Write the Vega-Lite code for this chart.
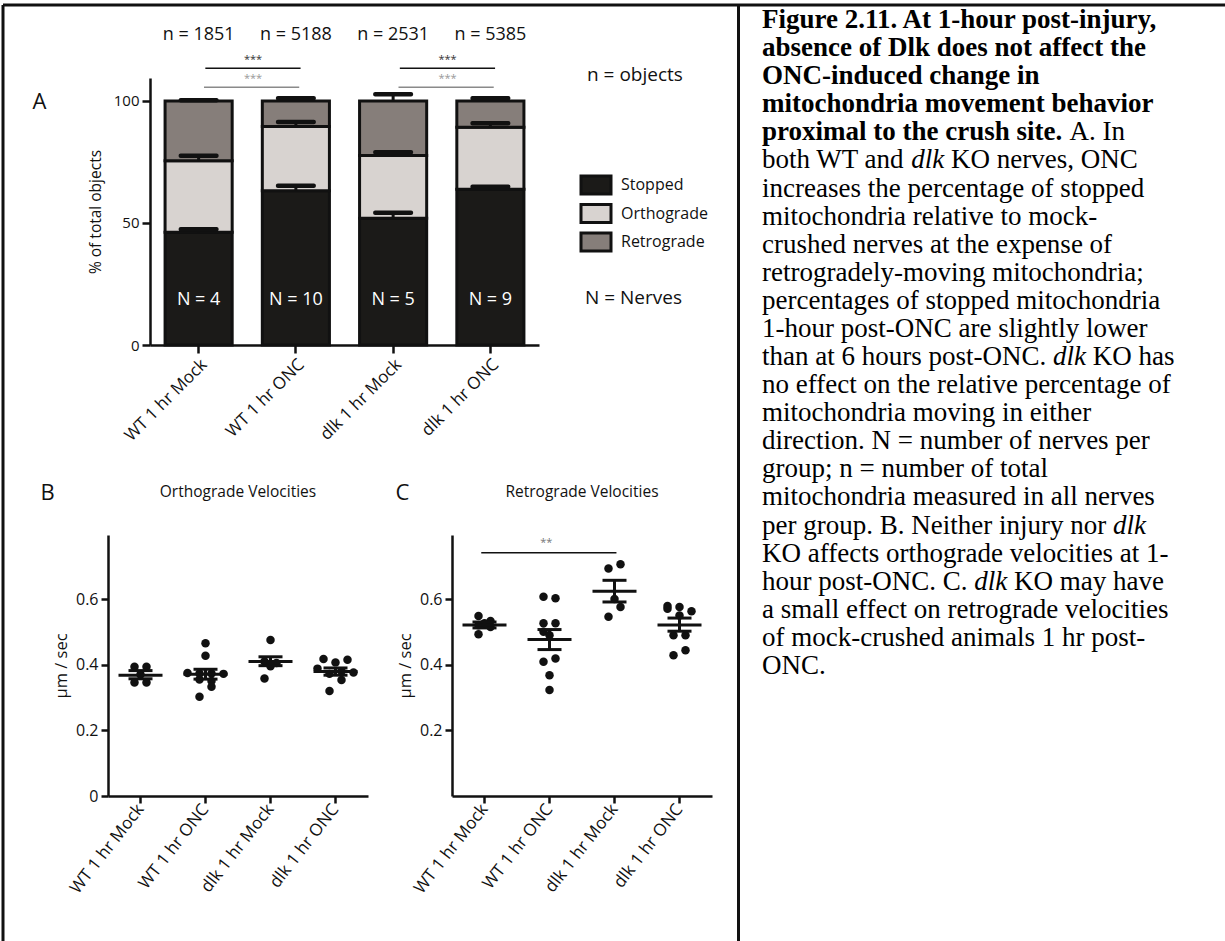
{
  "$schema": "https://vega.github.io/schema/vega-lite/v6.json",
  "width": 1222,
  "height": 936,
  "autosize": {"type": "none"},
  "padding": {"left": 3, "top": 5, "right": 0, "bottom": 0},
  "background": "white",
  "config": {
    "font": "Open Sans",
    "view": {"stroke": "#111", "strokeWidth": 3, "strokeDash": [1222, 2158, 936, 0]},
    "axis": {"grid": false, "domainColor": "#111", "tickColor": "#111", "labelColor": "#111", "titleColor": "#111", "titleFontWeight": "normal"},
    "legend": {"titleFontWeight": "normal", "titleColor": "#111", "labelColor": "#111", "padding": 0},
    "tick": {"opacity": 1}
  },
  "datasets": {
    "segA": [
      {"group": "WT 1 hr Mock", "motion": "Stopped", "start": 0, "end": 46.2, "err": 47.4},
      {"group": "WT 1 hr Mock", "motion": "Orthograde", "start": 46.2, "end": 75.5, "err": 77.5},
      {"group": "WT 1 hr Mock", "motion": "Retrograde", "start": 75.5, "end": 100, "err": 100.3},
      {"group": "WT 1 hr ONC", "motion": "Stopped", "start": 0, "end": 63.2, "err": 65.2},
      {"group": "WT 1 hr ONC", "motion": "Orthograde", "start": 63.2, "end": 89.5, "err": 91.4},
      {"group": "WT 1 hr ONC", "motion": "Retrograde", "start": 89.5, "end": 100, "err": 101.1},
      {"group": "dlk 1 hr Mock", "motion": "Stopped", "start": 0, "end": 51.9, "err": 54.2},
      {"group": "dlk 1 hr Mock", "motion": "Orthograde", "start": 51.9, "end": 77.6, "err": 79.0},
      {"group": "dlk 1 hr Mock", "motion": "Retrograde", "start": 77.6, "end": 100, "err": 102.7},
      {"group": "dlk 1 hr ONC", "motion": "Stopped", "start": 0, "end": 63.8, "err": 64.8},
      {"group": "dlk 1 hr ONC", "motion": "Orthograde", "start": 63.8, "end": 89.2, "err": 90.9},
      {"group": "dlk 1 hr ONC", "motion": "Retrograde", "start": 89.2, "end": 100, "err": 101.1}
    ],
    "groupsA": [
      {"group": "WT 1 hr Mock", "nObj": "n = 1851", "nNerve": "N = 4", "unit": "Nerves"},
      {"group": "WT 1 hr ONC", "nObj": "n = 5188", "nNerve": "N = 10", "unit": "Nerves"},
      {"group": "dlk 1 hr Mock", "nObj": "n = 2531", "nNerve": "N = 5", "unit": "Nerves"},
      {"group": "dlk 1 hr ONC", "nObj": "n = 5385", "nNerve": "N = 9", "unit": "Nerves"}
    ],
    "sigA": [
      {"left": "WT 1 hr Mock", "right": "WT 1 hr ONC", "stars": "***"},
      {"left": "dlk 1 hr Mock", "right": "dlk 1 hr ONC", "stars": "***"}
    ],
    "sigC": [{"left": "WT 1 hr Mock", "right": "dlk 1 hr Mock", "stars": "**"}],
    "panels": [
      {"panel": "Orthograde", "title": "Orthograde Velocities"},
      {"panel": "Retrograde", "title": "Retrograde Velocities"}
    ],
    "vel": [
      {"panel": "Orthograde", "group": "WT 1 hr Mock", "slot": -1, "speed": 0.394},
      {"panel": "Orthograde", "group": "WT 1 hr Mock", "slot": 1, "speed": 0.394},
      {"panel": "Orthograde", "group": "WT 1 hr Mock", "slot": 0, "speed": 0.37},
      {"panel": "Orthograde", "group": "WT 1 hr Mock", "slot": -1, "speed": 0.346},
      {"panel": "Orthograde", "group": "WT 1 hr Mock", "slot": 1, "speed": 0.346},
      {"panel": "Orthograde", "group": "WT 1 hr ONC", "slot": 0, "speed": 0.465},
      {"panel": "Orthograde", "group": "WT 1 hr ONC", "slot": 0, "speed": 0.427},
      {"panel": "Orthograde", "group": "WT 1 hr ONC", "slot": -3, "speed": 0.375},
      {"panel": "Orthograde", "group": "WT 1 hr ONC", "slot": -1, "speed": 0.373},
      {"panel": "Orthograde", "group": "WT 1 hr ONC", "slot": 1, "speed": 0.373},
      {"panel": "Orthograde", "group": "WT 1 hr ONC", "slot": 3, "speed": 0.372},
      {"panel": "Orthograde", "group": "WT 1 hr ONC", "slot": -1, "speed": 0.355},
      {"panel": "Orthograde", "group": "WT 1 hr ONC", "slot": 1, "speed": 0.35},
      {"panel": "Orthograde", "group": "WT 1 hr ONC", "slot": 1, "speed": 0.333},
      {"panel": "Orthograde", "group": "WT 1 hr ONC", "slot": -1, "speed": 0.302},
      {"panel": "Orthograde", "group": "dlk 1 hr Mock", "slot": 0, "speed": 0.475},
      {"panel": "Orthograde", "group": "dlk 1 hr Mock", "slot": -1, "speed": 0.41},
      {"panel": "Orthograde", "group": "dlk 1 hr Mock", "slot": 1, "speed": 0.405},
      {"panel": "Orthograde", "group": "dlk 1 hr Mock", "slot": 0, "speed": 0.395},
      {"panel": "Orthograde", "group": "dlk 1 hr Mock", "slot": -1, "speed": 0.358},
      {"panel": "Orthograde", "group": "dlk 1 hr ONC", "slot": -2, "speed": 0.417},
      {"panel": "Orthograde", "group": "dlk 1 hr ONC", "slot": 0, "speed": 0.407},
      {"panel": "Orthograde", "group": "dlk 1 hr ONC", "slot": 2, "speed": 0.415},
      {"panel": "Orthograde", "group": "dlk 1 hr ONC", "slot": -3, "speed": 0.388},
      {"panel": "Orthograde", "group": "dlk 1 hr ONC", "slot": 1, "speed": 0.38},
      {"panel": "Orthograde", "group": "dlk 1 hr ONC", "slot": 3, "speed": 0.376},
      {"panel": "Orthograde", "group": "dlk 1 hr ONC", "slot": -1, "speed": 0.372},
      {"panel": "Orthograde", "group": "dlk 1 hr ONC", "slot": 1, "speed": 0.353},
      {"panel": "Orthograde", "group": "dlk 1 hr ONC", "slot": -1, "speed": 0.32},
      {"panel": "Retrograde", "group": "WT 1 hr Mock", "slot": -1, "speed": 0.548},
      {"panel": "Retrograde", "group": "WT 1 hr Mock", "slot": 1, "speed": 0.533},
      {"panel": "Retrograde", "group": "WT 1 hr Mock", "slot": 0, "speed": 0.526},
      {"panel": "Retrograde", "group": "WT 1 hr Mock", "slot": -1, "speed": 0.52},
      {"panel": "Retrograde", "group": "WT 1 hr Mock", "slot": 1, "speed": 0.515},
      {"panel": "Retrograde", "group": "WT 1 hr Mock", "slot": -1, "speed": 0.493},
      {"panel": "Retrograde", "group": "WT 1 hr ONC", "slot": -1, "speed": 0.607},
      {"panel": "Retrograde", "group": "WT 1 hr ONC", "slot": 1, "speed": 0.602},
      {"panel": "Retrograde", "group": "WT 1 hr ONC", "slot": -1, "speed": 0.526},
      {"panel": "Retrograde", "group": "WT 1 hr ONC", "slot": 1, "speed": 0.526},
      {"panel": "Retrograde", "group": "WT 1 hr ONC", "slot": -1, "speed": 0.5},
      {"panel": "Retrograde", "group": "WT 1 hr ONC", "slot": 0, "speed": 0.49},
      {"panel": "Retrograde", "group": "WT 1 hr ONC", "slot": 1, "speed": 0.419},
      {"panel": "Retrograde", "group": "WT 1 hr ONC", "slot": -1, "speed": 0.409},
      {"panel": "Retrograde", "group": "WT 1 hr ONC", "slot": 0, "speed": 0.368},
      {"panel": "Retrograde", "group": "WT 1 hr ONC", "slot": 0, "speed": 0.323},
      {"panel": "Retrograde", "group": "dlk 1 hr Mock", "slot": -1, "speed": 0.693},
      {"panel": "Retrograde", "group": "dlk 1 hr Mock", "slot": 1, "speed": 0.706},
      {"panel": "Retrograde", "group": "dlk 1 hr Mock", "slot": 0, "speed": 0.6},
      {"panel": "Retrograde", "group": "dlk 1 hr Mock", "slot": 1, "speed": 0.576},
      {"panel": "Retrograde", "group": "dlk 1 hr Mock", "slot": -1, "speed": 0.546},
      {"panel": "Retrograde", "group": "dlk 1 hr ONC", "slot": -2, "speed": 0.579},
      {"panel": "Retrograde", "group": "dlk 1 hr ONC", "slot": -2, "speed": 0.57},
      {"panel": "Retrograde", "group": "dlk 1 hr ONC", "slot": 0, "speed": 0.576},
      {"panel": "Retrograde", "group": "dlk 1 hr ONC", "slot": 2, "speed": 0.563},
      {"panel": "Retrograde", "group": "dlk 1 hr ONC", "slot": 0, "speed": 0.55},
      {"panel": "Retrograde", "group": "dlk 1 hr ONC", "slot": -1, "speed": 0.49},
      {"panel": "Retrograde", "group": "dlk 1 hr ONC", "slot": 1, "speed": 0.49},
      {"panel": "Retrograde", "group": "dlk 1 hr ONC", "slot": 1, "speed": 0.444},
      {"panel": "Retrograde", "group": "dlk 1 hr ONC", "slot": -1, "speed": 0.429}
    ],
    "velsum": [
      {"panel": "Orthograde", "group": "WT 1 hr Mock", "mean": 0.368, "lo": 0.357, "hi": 0.382},
      {"panel": "Orthograde", "group": "WT 1 hr ONC", "mean": 0.371, "lo": 0.356, "hi": 0.386},
      {"panel": "Orthograde", "group": "dlk 1 hr Mock", "mean": 0.41, "lo": 0.397, "hi": 0.424},
      {"panel": "Orthograde", "group": "dlk 1 hr ONC", "mean": 0.379, "lo": 0.368, "hi": 0.39},
      {"panel": "Retrograde", "group": "WT 1 hr Mock", "mean": 0.521, "lo": 0.512, "hi": 0.53},
      {"panel": "Retrograde", "group": "WT 1 hr ONC", "mean": 0.477, "lo": 0.446, "hi": 0.507},
      {"panel": "Retrograde", "group": "dlk 1 hr Mock", "mean": 0.624, "lo": 0.591, "hi": 0.657},
      {"panel": "Retrograde", "group": "dlk 1 hr ONC", "mean": 0.521, "lo": 0.502, "hi": 0.542}
    ],
    "caption": [
      {"line": 1, "part": "heading", "text": "Figure 2.11. At 1-hour post-injury,"},
      {"line": 2, "part": "heading", "text": "absence of Dlk does not affect the"},
      {"line": 3, "part": "heading", "text": "ONC-induced change in"},
      {"line": 4, "part": "heading", "text": "mitochondria movement behavior"},
      {"line": 5, "part": "heading", "text": "proximal to the crush site."},
      {"line": 5, "part": "r5", "text": "A. In"},
      {"line": 6, "part": "body", "text": "both WT and"},
      {"line": 6, "part": "it6", "text": "dlk"},
      {"line": 6, "part": "r6", "text": "KO nerves, ONC"},
      {"line": 7, "part": "body", "text": "increases the percentage of stopped"},
      {"line": 8, "part": "body", "text": "mitochondria relative to mock-"},
      {"line": 9, "part": "body", "text": "crushed nerves at the expense of"},
      {"line": 10, "part": "body", "text": "retrogradely-moving mitochondria;"},
      {"line": 11, "part": "body", "text": "percentages of stopped mitochondria"},
      {"line": 12, "part": "body", "text": "1-hour post-ONC are slightly lower"},
      {"line": 13, "part": "body", "text": "than at 6 hours post-ONC."},
      {"line": 13, "part": "it13", "text": "dlk"},
      {"line": 13, "part": "r13", "text": "KO has"},
      {"line": 14, "part": "body", "text": "no effect on the relative percentage of"},
      {"line": 15, "part": "body", "text": "mitochondria moving in either"},
      {"line": 16, "part": "body", "text": "direction. N = number of nerves per"},
      {"line": 17, "part": "body", "text": "group; n = number of total"},
      {"line": 18, "part": "body", "text": "mitochondria measured in all nerves"},
      {"line": 19, "part": "body", "text": "per group. B. Neither injury nor"},
      {"line": 19, "part": "it19", "text": "dlk"},
      {"line": 20, "part": "body", "text": "KO affects orthograde velocities at 1-"},
      {"line": 21, "part": "body", "text": "hour post-ONC. C."},
      {"line": 21, "part": "it21", "text": "dlk"},
      {"line": 21, "part": "r21", "text": "KO may have"},
      {"line": 22, "part": "body", "text": "a small effect on retrograde velocities"},
      {"line": 23, "part": "body", "text": "of mock-crushed animals 1 hr post-"},
      {"line": 24, "part": "body", "text": "ONC."}
    ]
  },
  "layer": [
    {
      "data": {"name": "segA"},
      "layer": [
        {
          "mark": {"type": "bar", "stroke": "#111", "strokeWidth": 3},
          "encoding": {
            "x": {"field": "group", "type": "nominal", "sort": null, "bandPosition": 0,
              "scale": {"type": "band", "domain": ["WT 1 hr Mock", "WT 1 hr ONC", "dlk 1 hr Mock", "dlk 1 hr ONC"], "range": [147, 536], "paddingInner": 0.31, "paddingOuter": 0.155},
              "axis": {"orient": "bottom", "offset": -596, "title": "A", "titleX": 29, "titleY": -244, "titleAngle": 0, "titleAlign": "left", "titleBaseline": "middle", "titleFontSize": 22, "labelAngle": -45, "labelFontSize": 17, "tickSize": 8, "tickWidth": 2.5, "domainWidth": 2.5, "labelPadding": 3}},
            "x2": {"field": "group", "bandPosition": 1},
            "y": {"field": "end", "type": "quantitative",
              "scale": {"domain": [0, 109.4], "range": [340, 73], "nice": false},
              "axis": {"orient": "left", "offset": -147, "values": [0, 50, 100], "title": "% of total objects", "titleFontSize": 15.5, "labelFontSize": 15, "tickSize": 8, "tickWidth": 2.5, "domainWidth": 2.5, "labelPadding": 3, "titlePadding": 10}},
            "y2": {"field": "start"},
            "fill": {"field": "motion", "type": "nominal",
              "scale": {"domain": ["Stopped", "Orthograde", "Retrograde"], "range": ["#1b1a18", "#d8d3d0", "#867e7a"]},
              "legend": {"title": "n = objects", "orient": "none", "legendX": 584, "legendY": 61, "titleFontSize": 19, "titlePadding": 91, "labelFontSize": 16, "labelOffset": 16, "rowPadding": -1.5, "symbolType": "M-2,-1.2H2V1.2H-2Z", "symbolSize": 225, "symbolStrokeColor": "#111", "symbolStrokeWidth": 3}}
          }
        },
        {
          "mark": {"type": "rule", "strokeWidth": 3, "color": "#111"},
          "encoding": {
            "x": {"field": "group", "type": "nominal"},
            "y": {"field": "end", "type": "quantitative"},
            "y2": {"field": "err"}
          }
        },
        {
          "mark": {"type": "tick", "size": 40, "thickness": 4.5, "color": "#111", "cornerRadius": 2, "opacity": 1},
          "encoding": {
            "x": {"field": "group", "type": "nominal"},
            "y": {"field": "err", "type": "quantitative"}
          }
        },
        {
          "data": {"name": "groupsA"},
          "mark": {"type": "text", "fontSize": 18, "baseline": "middle"},
          "encoding": {
            "x": {"field": "group", "type": "nominal"},
            "y": {"datum": 18.4},
            "text": {"field": "nNerve"},
            "color": {"field": "unit", "type": "nominal", "scale": {"domain": ["Nerves"], "range": ["#ffffff"]},
              "legend": {"title": "N = Nerves", "orient": "none", "legendX": 582, "legendY": 284, "titleFontSize": 19, "symbolOpacity": 0, "labelOpacity": 0}}
          }
        },
        {
          "data": {"name": "groupsA"},
          "mark": {"type": "text", "fontSize": 18, "baseline": "middle", "color": "#111"},
          "encoding": {
            "x": {"field": "group", "type": "nominal"},
            "y": {"datum": 127},
            "text": {"field": "nObj"}
          }
        },
        {
          "data": {"name": "sigA"},
          "mark": {"type": "rule", "strokeWidth": 1.5, "color": "#111"},
          "encoding": {"x": {"field": "left", "type": "nominal", "bandPosition": 0.6}, "x2": {"field": "right", "bandPosition": 0.57}, "y": {"datum": 113.4}}
        },
        {
          "data": {"name": "sigA"},
          "mark": {"type": "rule", "strokeWidth": 1.5, "color": "#8a8a8a"},
          "encoding": {"x": {"field": "left", "type": "nominal", "bandPosition": 0.58}, "x2": {"field": "right", "bandPosition": 0.55}, "y": {"datum": 105.6}}
        },
        {
          "data": {"name": "sigA"},
          "mark": {"type": "text", "fontSize": 11, "baseline": "middle", "color": "#333"},
          "encoding": {"x": {"field": "left", "type": "nominal", "bandPosition": 1.31}, "y": {"datum": 116.6}, "text": {"field": "stars"}}
        },
        {
          "data": {"name": "sigA"},
          "mark": {"type": "text", "fontSize": 11, "baseline": "middle", "color": "#999"},
          "encoding": {"x": {"field": "left", "type": "nominal", "bandPosition": 1.31}, "y": {"datum": 108.8}, "text": {"field": "stars"}}
        }
      ]
    },
    {
      "data": {"name": "vel"},
      "transform": [{"filter": "datum.panel === 'Orthograde'"}],
      "layer": [
        {
          "mark": {"type": "circle", "size": 72, "color": "#111", "opacity": 1},
          "encoding": {
            "x": {"field": "group", "type": "nominal", "sort": null,
              "scale": {"type": "band", "domain": ["WT 1 hr Mock", "WT 1 hr ONC", "dlk 1 hr Mock", "dlk 1 hr ONC"], "range": [105, 365], "paddingInner": 0, "paddingOuter": 0},
              "axis": {"orient": "bottom", "offset": -145, "title": "B", "titleX": 37, "titleY": -304, "titleAngle": 0, "titleAlign": "left", "titleBaseline": "middle", "titleFontSize": 22, "labelAngle": -52, "labelFontSize": 17, "tickSize": 7, "tickWidth": 2.5, "domainWidth": 2.5, "labelPadding": 3}},
            "xOffset": {"field": "slot", "type": "quantitative", "scale": {"domain": [-3, 3], "range": [14.5, 50.5]}},
            "y": {"field": "speed", "type": "quantitative",
              "scale": {"domain": [0, 0.795], "range": [791, 530], "nice": false},
              "axis": {"orient": "left", "offset": -105, "values": [0, 0.2, 0.4, 0.6], "format": "~g", "title": "µm / sec", "titleFontSize": 16.5, "labelFontSize": 16, "tickSize": 7, "tickWidth": 2.5, "domainWidth": 2.5, "labelPadding": 3, "titlePadding": 6}}
          }
        },
        {
          "data": {"name": "velsum"},
          "transform": [{"filter": "datum.panel === 'Orthograde'"}],
          "mark": {"type": "tick", "size": 44, "thickness": 3, "color": "#111", "opacity": 1},
          "encoding": {"x": {"field": "group", "type": "nominal"}, "y": {"field": "mean", "type": "quantitative"}}
        },
        {
          "data": {"name": "velsum"},
          "transform": [{"filter": "datum.panel === 'Orthograde'"}],
          "mark": {"type": "tick", "size": 24, "thickness": 3, "color": "#111", "opacity": 1},
          "encoding": {"x": {"field": "group", "type": "nominal"}, "y": {"field": "lo", "type": "quantitative"}}
        },
        {
          "data": {"name": "velsum"},
          "transform": [{"filter": "datum.panel === 'Orthograde'"}],
          "mark": {"type": "tick", "size": 24, "thickness": 3, "color": "#111", "opacity": 1},
          "encoding": {"x": {"field": "group", "type": "nominal"}, "y": {"field": "hi", "type": "quantitative"}}
        },
        {
          "data": {"name": "velsum"},
          "transform": [{"filter": "datum.panel === 'Orthograde'"}],
          "mark": {"type": "rule", "strokeWidth": 3, "color": "#111"},
          "encoding": {"x": {"field": "group", "type": "nominal"}, "y": {"field": "lo", "type": "quantitative"}, "y2": {"field": "hi"}}
        },
        {
          "data": {"name": "panels"},
          "transform": [{"filter": "datum.panel === 'Orthograde'"}],
          "mark": {"type": "text", "fontSize": 15.5, "baseline": "middle", "color": "#111"},
          "encoding": {"x": {"datum": "WT 1 hr ONC", "bandPosition": 1}, "y": {"datum": 0.926}, "text": {"field": "title"}}
        }
      ]
    },
    {
      "data": {"name": "vel"},
      "transform": [{"filter": "datum.panel === 'Retrograde'"}],
      "layer": [
        {
          "mark": {"type": "circle", "size": 72, "color": "#111", "opacity": 1},
          "encoding": {
            "x": {"field": "group", "type": "nominal", "sort": null,
              "scale": {"type": "band", "domain": ["WT 1 hr Mock", "WT 1 hr ONC", "dlk 1 hr Mock", "dlk 1 hr ONC"], "range": [449, 709], "paddingInner": 0, "paddingOuter": 0},
              "axis": {"orient": "bottom", "offset": -145, "title": "C", "titleX": 392, "titleY": -304, "titleAngle": 0, "titleAlign": "left", "titleBaseline": "middle", "titleFontSize": 22, "labelAngle": -52, "labelFontSize": 17, "tickSize": 7, "tickWidth": 2.5, "domainWidth": 2.5, "labelPadding": 3}},
            "xOffset": {"field": "slot", "type": "quantitative", "scale": {"domain": [-3, 3], "range": [14.5, 50.5]}},
            "y": {"field": "speed", "type": "quantitative",
              "scale": {"domain": [0, 0.795], "range": [791, 530], "nice": false},
              "axis": {"orient": "left", "offset": -449, "values": [0.2, 0.4, 0.6], "format": "~g", "title": "µm / sec", "titleFontSize": 16.5, "labelFontSize": 16, "tickSize": 7, "tickWidth": 2.5, "domainWidth": 2.5, "labelPadding": 3, "titlePadding": 6}}
          }
        },
        {
          "data": {"name": "velsum"},
          "transform": [{"filter": "datum.panel === 'Retrograde'"}],
          "mark": {"type": "tick", "size": 44, "thickness": 3, "color": "#111", "opacity": 1},
          "encoding": {"x": {"field": "group", "type": "nominal"}, "y": {"field": "mean", "type": "quantitative"}}
        },
        {
          "data": {"name": "velsum"},
          "transform": [{"filter": "datum.panel === 'Retrograde'"}],
          "mark": {"type": "tick", "size": 24, "thickness": 3, "color": "#111", "opacity": 1},
          "encoding": {"x": {"field": "group", "type": "nominal"}, "y": {"field": "lo", "type": "quantitative"}}
        },
        {
          "data": {"name": "velsum"},
          "transform": [{"filter": "datum.panel === 'Retrograde'"}],
          "mark": {"type": "tick", "size": 24, "thickness": 3, "color": "#111", "opacity": 1},
          "encoding": {"x": {"field": "group", "type": "nominal"}, "y": {"field": "hi", "type": "quantitative"}}
        },
        {
          "data": {"name": "velsum"},
          "transform": [{"filter": "datum.panel === 'Retrograde'"}],
          "mark": {"type": "rule", "strokeWidth": 3, "color": "#111"},
          "encoding": {"x": {"field": "group", "type": "nominal"}, "y": {"field": "lo", "type": "quantitative"}, "y2": {"field": "hi"}}
        },
        {
          "data": {"name": "panels"},
          "transform": [{"filter": "datum.panel === 'Retrograde'"}],
          "mark": {"type": "text", "fontSize": 15.5, "baseline": "middle", "color": "#111"},
          "encoding": {"x": {"datum": "WT 1 hr ONC", "bandPosition": 1}, "y": {"datum": 0.926}, "text": {"field": "title"}}
        },
        {
          "data": {"name": "sigC"},
          "mark": {"type": "rule", "strokeWidth": 1.5, "color": "#111"},
          "encoding": {"x": {"field": "left", "type": "nominal", "bandPosition": 0.45}, "x2": {"field": "right", "bandPosition": 0.53}, "y": {"datum": 0.741}}
        },
        {
          "data": {"name": "sigC"},
          "mark": {"type": "text", "fontSize": 11, "baseline": "middle", "color": "#777"},
          "encoding": {"x": {"datum": "WT 1 hr ONC", "bandPosition": 0.45}, "y": {"datum": 0.772}, "text": {"field": "stars"}}
        }
      ]
    },
    {
      "data": {"name": "caption"},
      "layer": [
        {
          "transform": [{"filter": "datum.part === 'heading'"}],
          "mark": {"type": "text", "font": "Liberation Serif", "fontSize": 27, "fontWeight": "bold", "align": "left", "baseline": "alphabetic", "color": "#000"},
          "encoding": {
            "x": {"datum": 0, "type": "quantitative", "scale": {"domain": [0, 1], "range": [759, 1222]}, "axis": null},
            "y": {"field": "line", "type": "quantitative", "scale": {"domain": [0.18, 33.51], "range": [0, 936], "nice": false, "zero": false},
              "axis": {"orient": "left", "offset": -735, "labels": false, "ticks": false, "title": null, "domainWidth": 3, "domainColor": "#111"}},
            "text": {"field": "text"}
          }
        },
        {
          "transform": [{"filter": "datum.part === 'body'"}],
          "mark": {"type": "text", "font": "Liberation Serif", "fontSize": 27, "align": "left", "baseline": "alphabetic", "color": "#000"},
          "encoding": {"x": {"datum": 0, "type": "quantitative"}, "y": {"field": "line", "type": "quantitative"}, "text": {"field": "text"}}
        },
        {
          "transform": [{"filter": "datum.part === 'r5'"}],
          "mark": {"type": "text", "font": "Liberation Serif", "fontSize": 27, "align": "left", "baseline": "alphabetic", "color": "#000"},
          "encoding": {"x": {"datum": 0.664, "type": "quantitative"}, "y": {"field": "line", "type": "quantitative"}, "text": {"field": "text"}}
        },
        {
          "transform": [{"filter": "datum.part === 'it6'"}],
          "mark": {"type": "text", "font": "Liberation Serif", "fontSize": 27, "fontStyle": "italic", "align": "left", "baseline": "alphabetic", "color": "#000"},
          "encoding": {"x": {"datum": 0.3223, "type": "quantitative"}, "y": {"field": "line", "type": "quantitative"}, "text": {"field": "text"}}
        },
        {
          "transform": [{"filter": "datum.part === 'r6'"}],
          "mark": {"type": "text", "font": "Liberation Serif", "fontSize": 27, "align": "left", "baseline": "alphabetic", "color": "#000"},
          "encoding": {"x": {"datum": 0.4082, "type": "quantitative"}, "y": {"field": "line", "type": "quantitative"}, "text": {"field": "text"}}
        },
        {
          "transform": [{"filter": "datum.part === 'it13'"}],
          "mark": {"type": "text", "font": "Liberation Serif", "fontSize": 27, "fontStyle": "italic", "align": "left", "baseline": "alphabetic", "color": "#000"},
          "encoding": {"x": {"datum": 0.6285, "type": "quantitative"}, "y": {"field": "line", "type": "quantitative"}, "text": {"field": "text"}}
        },
        {
          "transform": [{"filter": "datum.part === 'r13'"}],
          "mark": {"type": "text", "font": "Liberation Serif", "fontSize": 27, "align": "left", "baseline": "alphabetic", "color": "#000"},
          "encoding": {"x": {"datum": 0.7144, "type": "quantitative"}, "y": {"field": "line", "type": "quantitative"}, "text": {"field": "text"}}
        },
        {
          "transform": [{"filter": "datum.part === 'it19'"}],
          "mark": {"type": "text", "font": "Liberation Serif", "fontSize": 27, "fontStyle": "italic", "align": "left", "baseline": "alphabetic", "color": "#000"},
          "encoding": {"x": {"datum": 0.7579, "type": "quantitative"}, "y": {"field": "line", "type": "quantitative"}, "text": {"field": "text"}}
        },
        {
          "transform": [{"filter": "datum.part === 'it21'"}],
          "mark": {"type": "text", "font": "Liberation Serif", "fontSize": 27, "fontStyle": "italic", "align": "left", "baseline": "alphabetic", "color": "#000"},
          "encoding": {"x": {"datum": 0.4584, "type": "quantitative"}, "y": {"field": "line", "type": "quantitative"}, "text": {"field": "text"}}
        },
        {
          "transform": [{"filter": "datum.part === 'r21'"}],
          "mark": {"type": "text", "font": "Liberation Serif", "fontSize": 27, "align": "left", "baseline": "alphabetic", "color": "#000"},
          "encoding": {"x": {"datum": 0.5443, "type": "quantitative"}, "y": {"field": "line", "type": "quantitative"}, "text": {"field": "text"}}
        }
      ]
    }
  ],
  "resolve": {"scale": {"x": "independent", "y": "independent"}, "axis": {"x": "independent", "y": "independent"}}
}
